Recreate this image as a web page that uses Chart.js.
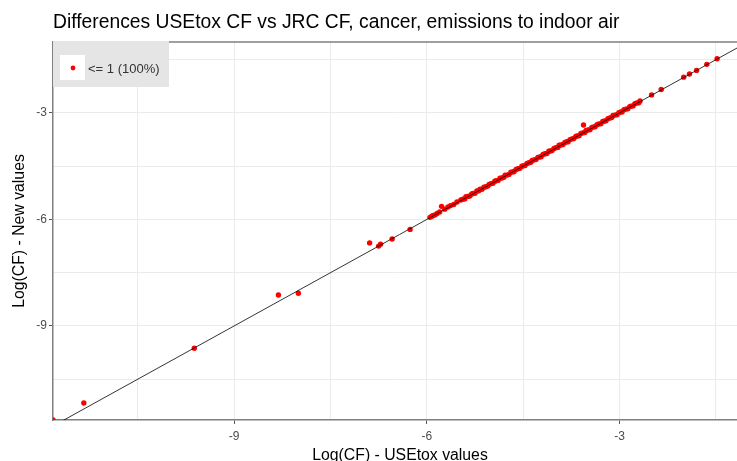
<!DOCTYPE html>
<html>
<head>
<meta charset="utf-8">
<script src="https://cdn.jsdelivr.net/npm/chart.js@4"></script>
<style>
  html, body { margin: 0; padding: 0; background: #fff; overflow: hidden; }
  #wrap { width: 737px; height: 461px; position: relative; }
  canvas { display: block; }
</style>
</head>
<body>
<div id="wrap"><canvas id="chart"></canvas></div>
<script>
const chartTitle = 'Differences USEtox CF vs JRC CF, cancer, emissions to indoor air';
const xTitle = 'Log(CF) - USEtox values';
const yTitle = 'Log(CF) - New values';
const legendLabel = '<= 1 (100%)';

const xRange = [-11.82, -1.17];
const yRange = [-11.65, -1.0];
const xMajorTicks = [-9, -6, -3];
const xMinorTicks = [-10.5, -7.5, -4.5, -1.5];
const yMajorTicks = [-9, -6, -3];
const yMinorTicks = [-10.5, -7.5, -4.5, -1.5];
const identityLine = [-11.82, -1.17];

// log CF, USEtox (x) and new (y)
const usetoxValues = [
  -11.82, -11.34, -9.62, -8.31, -8.00, -6.89, -6.75, -6.72, -6.54, -6.26,
  -5.95, -5.92, -5.90, -5.87, -5.84, -5.80, -5.77, -5.72, -5.67, -5.63, -5.58, -5.53,
  -5.47, -5.44, -5.41, -5.39, -5.36, -5.33, -5.30, -5.28, -5.25, -5.22,
  -5.19, -5.17, -5.14, -5.11, -5.08, -5.05, -5.03, -5.00, -4.97, -4.94,
  -4.92, -4.89, -4.86, -4.83, -4.80, -4.78, -4.75, -4.72, -4.69, -4.66,
  -4.64, -4.61, -4.58, -4.55, -4.52, -4.50, -4.47, -4.44, -4.41, -4.38,
  -4.36, -4.33, -4.30, -4.27, -4.24, -4.22, -4.19, -4.16, -4.13, -4.10,
  -4.08, -4.05, -4.02, -3.99, -3.96, -3.94, -3.91, -3.88, -3.85, -3.82,
  -3.80, -3.77, -3.74, -3.71, -3.68, -3.66, -3.63, -3.60, -3.57, -3.54,
  -3.52, -3.49, -3.46, -3.43, -3.40, -3.38, -3.35, -3.32, -3.29, -3.26,
  -3.24, -3.21, -3.18, -3.15, -3.12, -3.10, -3.07, -3.04, -3.01, -2.98,
  -2.96, -2.93, -2.90, -2.87, -2.84, -2.82, -2.79, -2.76, -2.73, -2.70, -2.68,
  -3.56, -2.50, -2.35, -2.00, -1.91, -1.80, -1.64, -1.48
];
const newValues = [
  -11.65, -11.17, -9.63, -8.13, -8.08, -6.66, -6.75, -6.70, -6.55, -6.28,
  -5.94, -5.91, -5.89, -5.87, -5.83, -5.79, -5.63, -5.71, -5.65, -5.61, -5.58, -5.51,
  -5.45, -5.43, -5.42, -5.36, -5.35, -5.34, -5.28, -5.27, -5.26, -5.20,
  -5.19, -5.15, -5.15, -5.09, -5.08, -5.06, -5.01, -4.99, -4.98, -4.92,
  -4.91, -4.90, -4.84, -4.83, -4.81, -4.75, -4.75, -4.73, -4.67, -4.66,
  -4.65, -4.59, -4.57, -4.56, -4.50, -4.49, -4.48, -4.42, -4.40, -4.39,
  -4.34, -4.32, -4.31, -4.25, -4.24, -4.23, -4.17, -4.15, -4.14, -4.08,
  -4.07, -4.06, -4.00, -3.98, -3.97, -3.91, -3.90, -3.89, -3.83, -3.81,
  -3.81, -3.75, -3.73, -3.72, -3.66, -3.65, -3.64, -3.58, -3.56, -3.55,
  -3.49, -3.48, -3.47, -3.41, -3.39, -3.39, -3.33, -3.31, -3.30, -3.24,
  -3.23, -3.22, -3.16, -3.14, -3.13, -3.07, -3.06, -3.05, -2.99, -2.97,
  -2.97, -2.91, -2.89, -2.88, -2.82, -2.81, -2.80, -2.74, -2.72, -2.71, -2.66,
  -3.34, -2.49, -2.34, -1.99, -1.90, -1.80, -1.63, -1.47
];

const FONT = '"Liberation Sans", Arial, sans-serif';
Chart.defaults.font.family = FONT;
Chart.defaults.animation = false;

const points = usetoxValues.map((x, i) => ({ x, y: newValues[i] }));
const isMajor = (v, majors) => majors.includes(v);

const decorPlugin = {
  id: 'decor',
  afterDraw(chart) {
    const { ctx, chartArea: a } = chart;
    ctx.save();
    // top panel line
    ctx.strokeStyle = '#7f7f7f';
    ctx.lineWidth = 1.5;
    ctx.beginPath();
    ctx.moveTo(a.left, a.top);
    ctx.lineTo(a.right, a.top);
    ctx.stroke();

    // title
    ctx.fillStyle = '#000';
    ctx.font = '19.3px ' + FONT;
    ctx.textBaseline = 'alphabetic';
    ctx.textAlign = 'left';
    ctx.fillText(chartTitle, a.left, 28);

    // axis titles
    ctx.font = '15.8px ' + FONT;
    ctx.textAlign = 'center';
    ctx.fillText(xTitle, 400, 460);
    ctx.save();
    ctx.translate(24, 231);
    ctx.rotate(-Math.PI / 2);
    ctx.fillText(yTitle, 0, 0);
    ctx.restore();

    // legend box in the top-left corner of the panel
    const lx = a.left, ly = a.top;
    ctx.fillStyle = '#e5e5e5';
    ctx.fillRect(lx, ly - 1, 116, 46);
    ctx.fillStyle = '#fff';
    ctx.fillRect(lx + 7, ly + 13, 25, 25);
    ctx.fillStyle = '#ff0000';
    ctx.beginPath();
    ctx.arc(lx + 20, ly + 26, 2.4, 0, Math.PI * 2);
    ctx.fill();
    ctx.fillStyle = '#333';
    ctx.font = '13px ' + FONT;
    ctx.textAlign = 'left';
    ctx.textBaseline = 'middle';
    ctx.fillText(chart.data.datasets[1].label, lx + 35, ly + 27);
    ctx.restore();
  }
};

new Chart(document.getElementById('chart'), {
  type: 'scatter',
  data: {
    datasets: [
      {
        type: 'line',
        label: 'identity',
        data: identityLine.map(v => ({ x: v, y: v })),
        borderColor: '#000',
        borderWidth: 0.8,
        pointRadius: 0,
        fill: false,
        clip: 0
      },
      {
        label: legendLabel,
        data: points,
        pointRadius: 2.7,
        pointBackgroundColor: '#ff0000',
        pointBorderWidth: 0,
        clip: 0
      }
    ]
  },
  options: {
    responsive: true,
    maintainAspectRatio: false,
    layout: { autoPadding: false, padding: { top: 42, right: 0, bottom: 0, left: 0 } },
    plugins: {
      legend: { display: false },
      title: { display: false },
      tooltip: { enabled: false }
    },
    scales: {
      x: {
        type: 'linear',
        min: xRange[0],
        max: xRange[1],
        afterBuildTicks: s => { s.ticks = [...xMinorTicks, ...xMajorTicks].sort((a, b) => a - b).map(v => ({ value: v })); },
        afterFit: s => { s.height = 41; s.paddingLeft = 0; s.paddingRight = 0; },
        ticks: {
          padding: 5,
          color: '#4d4d4d',
          font: { size: 12 },
          maxRotation: 0,
          callback: v => isMajor(v, xMajorTicks) ? String(v) : ''
        },
        grid: {
          color: '#ebebeb',
          lineWidth: 1,
          tickLength: 4,
          tickColor: c => isMajor(c.tick.value, xMajorTicks) ? '#555' : 'rgba(0,0,0,0)'
        },
        border: { color: '#7f7f7f', width: 1.5 }
      },
      y: {
        type: 'linear',
        min: yRange[0],
        max: yRange[1],
        afterBuildTicks: s => { s.ticks = [...yMinorTicks, ...yMajorTicks].sort((a, b) => a - b).map(v => ({ value: v })); },
        afterFit: s => { s.width = 53; s.paddingTop = 0; s.paddingBottom = 0; },
        ticks: {
          padding: 2,
          color: '#4d4d4d',
          font: { size: 12 },
          callback: v => isMajor(v, yMajorTicks) ? String(v) : ''
        },
        grid: {
          color: '#ebebeb',
          lineWidth: 1,
          tickLength: 4,
          tickColor: c => isMajor(c.tick.value, yMajorTicks) ? '#555' : 'rgba(0,0,0,0)'
        },
        border: { color: '#7f7f7f', width: 1.5 }
      }
    }
  },
  plugins: [decorPlugin]
});
</script>
</body>
</html>
